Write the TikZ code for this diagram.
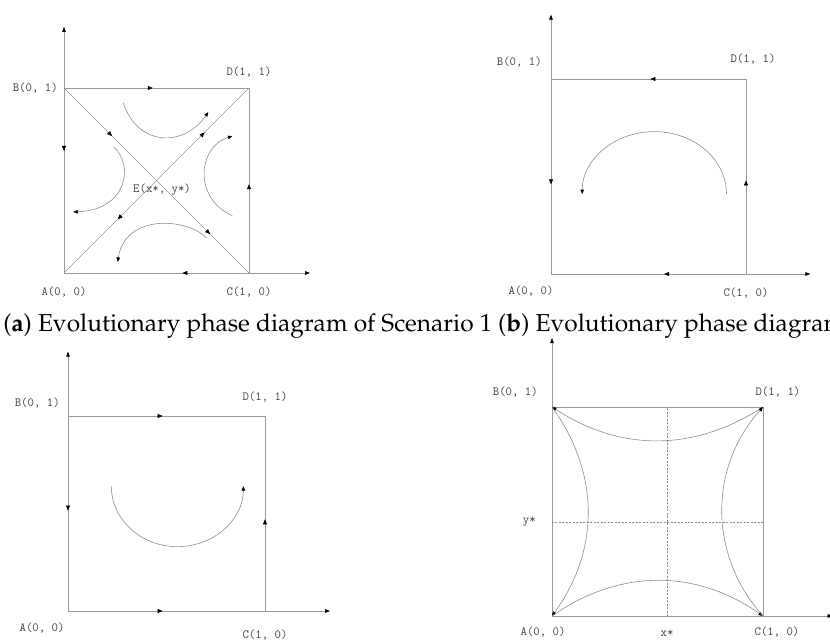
\documentclass[tikz,border=0pt]{standalone}
\usepackage[T1,TU]{fontenc}
\usetikzlibrary{arrows.meta,positioning,decorations.markings}

\begin{document}
\begin{tikzpicture}[
  x=1bp, y=1bp,
  line width=0.6pt,
  axis/.style={draw=black!40, -{Triangle[length=5pt,width=3.6pt,color=black]}},
  side/.style={draw=black!40},
  flow/.style={draw=black!45, -{Triangle[length=4.5pt,width=3.6pt,color=black]}},
  guide/.style={draw=black!45, line width=0.4pt, dash pattern=on 2pt off 1.5pt},
  midarr/.style={postaction={decorate, decoration={markings,
      mark=at position #1 with {\arrow{Triangle[length=5pt,width=4pt,color=black]}}}}},
  revarr/.style={postaction={decorate, decoration={markings,
      mark=at position #1 with {\arrowreversed{Triangle[length=5pt,width=4pt,color=black]}}}}},
  lbl/.style={font=\ttfamily\fontsize{12.5}{14}\selectfont, text=black!75, inner sep=1pt},
  captext/.style={font=\fontencoding{T1}\fontfamily{ppl}\fontsize{24.6}{28}\selectfont,
              inner sep=0pt, anchor=base west}
]
\clip (0,0) rectangle (830,642);

% (a) saddle at E
\begin{scope}[shift={(64,369)}, x=185bp, y=185bp]
  \coordinate (aA) at (0,0);
  \coordinate (aB) at (0,1);
  \coordinate (aC) at (1,0);
  \coordinate (aD) at (1,1);
  \coordinate (aX) at (1.33,0);
  \coordinate (aY) at (0,1.33);
  \coordinate (aE) at (0.53,0.45);
  \draw[axis] (aA) -- (aY);
  \draw[axis] (aA) -- (aX);
  \draw[side, midarr=0.48] (aB) -- (aD);
  \draw[side, midarr=0.34] (aB) -- (aA);
  \draw[side, midarr=0.48] (aC) -- (aD);
  \draw[side, midarr=0.36] (aC) -- (aA);
  \draw[side, midarr=0.26, midarr=0.79] (aB) -- (aC);
  \draw[side, revarr=0.29, midarr=0.76] (aA) -- (aD);
  \draw[flow] (0.32,0.92) .. controls (0.40,0.68) and (0.65,0.68) .. (0.78,0.87);
  \draw[flow] (0.91,0.31) .. controls (0.70,0.40) and (0.72,0.68) .. (0.91,0.74);
  \draw[flow] (0.27,0.68) .. controls (0.38,0.58) and (0.34,0.34) .. (0.05,0.33);
  \draw[flow] (0.77,0.19) .. controls (0.66,0.30) and (0.33,0.32) .. (0.29,0.06);
  \node[lbl, left=5pt of aB] (aBl) {B(0, 1)};
  \node[lbl, above=9pt of aD] (aDl) {D(1, 1)};
  \node[lbl, below=13pt of aA] (aAl) {A(0, 0)};
  \node[lbl, below=13pt of aC] (aCl) {C(1, 0)};
  \node[lbl] (aEl) at (aE) {E(x*, y*)};
\end{scope}

% (b) anticlockwise edges
\begin{scope}[shift={(551,368)}, x=195bp, y=195bp]
  \coordinate (bA) at (0,0);
  \coordinate (bB) at (0,1);
  \coordinate (bC) at (1,0);
  \coordinate (bD) at (1,1);
  \coordinate (bX) at (1.33,0);
  \coordinate (bY) at (0,1.33);
  \draw[axis] (bA) -- (bY);
  \draw[axis] (bA) -- (bX);
  \draw[side, midarr=0.49] (bD) -- (bB);
  \draw[side, midarr=0.54] (bB) -- (bA);
  \draw[side, midarr=0.48] (bC) -- (bD);
  \draw[side, midarr=0.42] (bC) -- (bA);
  \draw[flow] (0.90,0.41) arc[start angle=0, end angle=180, x radius=0.37, y radius=0.32];
  \node[lbl, above left=11pt and 8pt of bB] (bBl) {B(0, 1)};
  \node[lbl, above=14pt of bD, xshift=7pt] (bDl) {D(1, 1)};
  \node[lbl, below=11pt of bA, xshift=-20pt] (bAl) {A(0, 0)};
  \node[lbl, below=13pt of bC] (bCl) {C(1, 0)};
\end{scope}

% (c) clockwise edges
\begin{scope}[shift={(68,31)}, x=197bp, y=195bp]
  \coordinate (cA) at (0,0);
  \coordinate (cB) at (0,1);
  \coordinate (cC) at (1,0);
  \coordinate (cD) at (1,1);
  \coordinate (cX) at (1.33,0);
  \coordinate (cY) at (0,1.33);
  \draw[axis] (cA) -- (cY);
  \draw[axis] (cA) -- (cX);
  \draw[side, midarr=0.48] (cB) -- (cD);
  \draw[side, midarr=0.485] (cB) -- (cA);
  \draw[side, midarr=0.47] (cC) -- (cD);
  \draw[side, midarr=0.48] (cA) -- (cC);
  \draw[flow] (0.22,0.64) arc[start angle=180, end angle=360, x radius=0.335, y radius=0.31];
  \node[lbl, above left=6pt and 7pt of cB] (cBl) {B(0, 1)};
  \node[lbl, above=13pt of cD] (cDl) {D(1, 1)};
  \node[lbl, below=11pt of cA, xshift=-26pt] (cAl) {A(0, 0)};
  \node[lbl, below=18pt of cC] (cCl) {C(1, 0)};
\end{scope}

% (d) closed orbits through the corners
\begin{scope}[shift={(552,26)}, x=211bp, y=209bp]
  \coordinate (dA) at (0,0);
  \coordinate (dB) at (0,1);
  \coordinate (dC) at (1,0);
  \coordinate (dD) at (1,1);
  \coordinate (dX) at (1.33,0);
  \coordinate (dY) at (0,1.33);
  \coordinate (dXs) at (0.545,0);
  \coordinate (dYs) at (0,0.45);
  \coordinate (dXt) at (0.545,1);
  \coordinate (dYt) at (1,0.45);
  \draw[axis] (dA) -- (dY);
  \draw[axis] (dA) -- (dX);
  \draw[side] (dB) -- (dD) -- (dC);
  \draw[guide] (dXs) -- (dXt);
  \draw[guide] (dYs) -- (dYt);
  \draw[flow] (dD) to[bend left=33] (dB);
  \draw[flow] (dB) to[bend left=36] (dA);
  \draw[flow] (dA) to[bend left=35] (dC);
  \draw[flow] (dC) to[bend left=42] (dD);
  \node[lbl, above left=8pt and 13pt of dB] (dBl) {B(0, 1)};
  \node[lbl, above=8pt of dD, xshift=15pt] (dDl) {D(1, 1)};
  \node[lbl, below=10pt of dA, xshift=-9pt] (dAl) {A(0, 0)};
  \node[lbl, below=10pt of dC, xshift=14pt] (dCl) {C(1, 0)};
  \node[lbl, below=13pt of dXs] (dXl) {x*};
  \node[lbl, left=15pt of dYs] (dYl) {y*};
\end{scope}

\node[captext] (caption) at (3,310)
  {(\textbf{a}) Evolutionary phase diagram of Scenario 1 (\textbf{b}) Evolutionary phase diagram};
\end{tikzpicture}
\end{document}
